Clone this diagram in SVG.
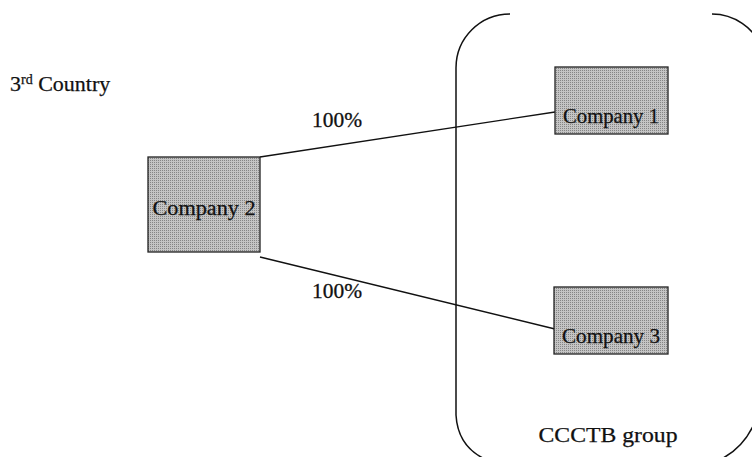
<svg xmlns="http://www.w3.org/2000/svg" width="752" height="457" viewBox="0 0 752 457">
<defs>
<pattern id="dots" width="2" height="2" patternUnits="userSpaceOnUse">
<rect width="2" height="2" fill="#c4c4c4"/>
<rect width="1" height="1" fill="#858585"/>
</pattern>
</defs>
<style>
.box{fill:url(#dots);stroke:#222;stroke-width:1.3}
.lbl{font-family:"Liberation Serif",serif;font-size:21px;fill:#111;text-anchor:middle;stroke:#111;stroke-width:0.25}
.pct{font-family:"Liberation Serif",serif;font-size:21px;fill:#111;stroke:#111;stroke-width:0.3}
.conn{stroke:#111;stroke-width:1.3;fill:none}
.frame{fill:none;stroke:#111;stroke-width:1.5}
</style>
<g id="group">
<path class="frame" d="M510,14 A54,54 0 0 0 456,68 L456,415 Q458,450 492,462"/>
<path class="frame" d="M712,14 A54,54 0 0 1 762,48"/>
<path class="frame" d="M762,395 Q755,445 715,462"/>
<text x="608" y="442" class="lbl" font-size="24" textLength="139" lengthAdjust="spacingAndGlyphs">CCCTB group</text>
</g>
<text x="10" y="91" font-family="Liberation Serif,serif" font-size="22" fill="#111" stroke="#111" stroke-width="0.25">3<tspan font-size="14" dy="-7">rd</tspan><tspan dy="7"> Country</tspan></text>
<g id="connectors">
<line class="conn" x1="260" y1="157" x2="555" y2="112"/>
<line class="conn" x1="260" y1="257" x2="555" y2="329"/>
<text class="pct" x="312" y="127" textLength="50" lengthAdjust="spacingAndGlyphs">100%</text>
<text class="pct" x="312" y="298" textLength="50" lengthAdjust="spacingAndGlyphs">100%</text>
</g>
<g id="company2">
<rect class="box" x="148" y="157" width="112" height="95"/>
<text class="lbl" x="204" y="215" textLength="103" lengthAdjust="spacingAndGlyphs">Company 2</text>
</g>
<g id="company1">
<rect class="box" x="555" y="67" width="113" height="67"/>
<text class="lbl" x="611" y="123" textLength="96" lengthAdjust="spacingAndGlyphs">Company 1</text>
</g>
<g id="company3">
<rect class="box" x="554" y="287" width="114" height="67"/>
<text class="lbl" x="611" y="343" textLength="98" lengthAdjust="spacingAndGlyphs">Company 3</text>
</g>
</svg>
